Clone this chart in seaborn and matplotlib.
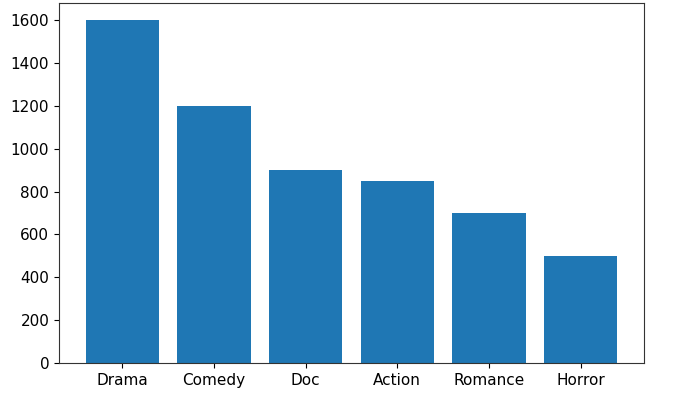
import matplotlib
matplotlib.use("Agg")
import matplotlib.pyplot as plt
import seaborn as sns
import pandas as pd

genres = ["Drama", "Comedy", "Doc", "Action", "Romance", "Horror"]
counts = [1600, 1200, 900, 850, 700, 500]

df = pd.DataFrame({"genre": genres, "count": counts})

fig = plt.figure(figsize=(6.84, 4.12), dpi=100)
ax = fig.add_axes([0.0863, 0.119, 0.855, 0.874])
sns.barplot(data=df, x="genre", y="count", color="#1f77b4", saturation=1, width=0.8, ax=ax)
ax.set_xlabel("")
ax.set_ylabel("")
ax.set_ylim(0, 1680)
ax.set_xlim(-0.69, 5.69)
ax.set_yticks(range(0, 1601, 200))
ax.tick_params(labelsize=11)
for s in ax.spines.values():
    s.set_color("#333333")
fig.savefig("out.png", dpi=100)
